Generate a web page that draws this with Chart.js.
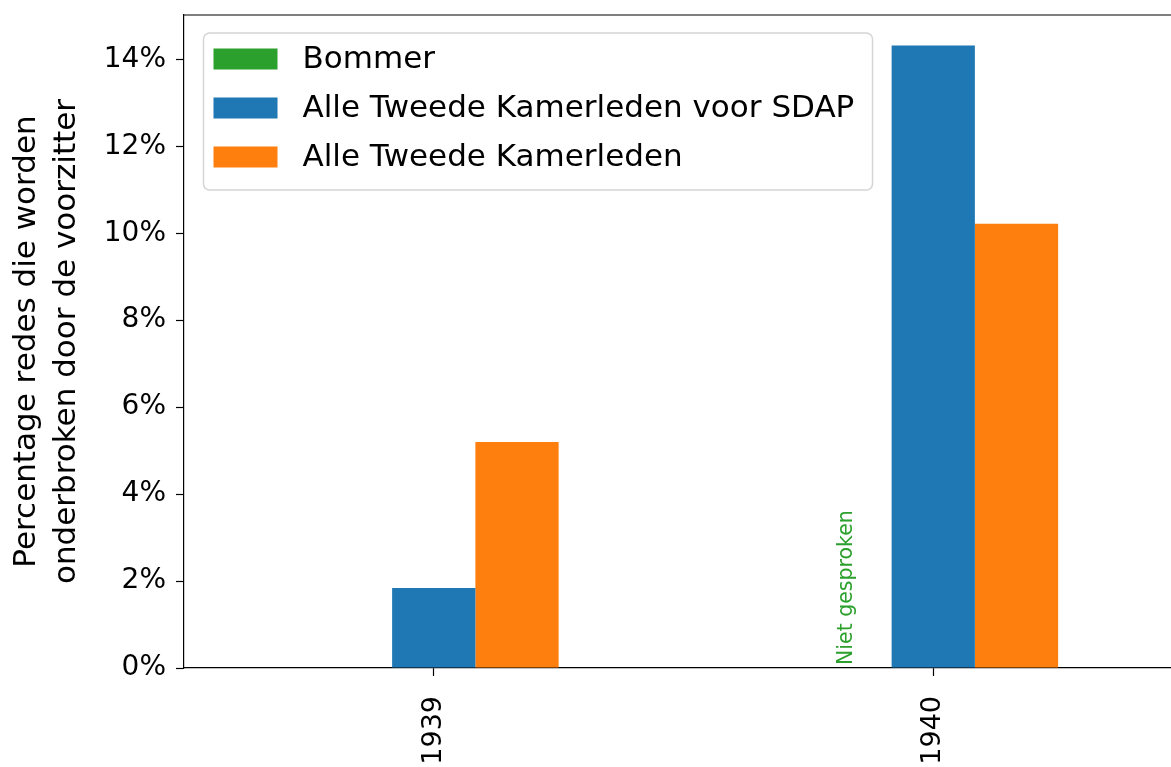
<!DOCTYPE html>
<html>
<head>
<meta charset="utf-8">
<script src="https://cdn.jsdelivr.net/npm/chart.js@4"></script>
<style>
  html, body { margin: 0; padding: 0; background: #fff; overflow: hidden; }
  #wrap { width: 1171px; height: 767px; overflow: hidden; }
</style>
</head>
<body>
<div id="wrap"><canvas id="myChart" width="1200" height="767"></canvas></div>
<script>
"use strict";

const jaren = ["1939", "1940"];
const bommer = [0, null];
const sdap = [1.84, 14.32];
const alleKamerleden = [5.2, 10.22];
const yTicks = [0, 2, 4, 6, 8, 10, 12, 14];
const yLabel = ["Percentage redes die worden", "onderbroken door de voorzitter"];
const nietGesproken = "Niet gesproken";

const fontFam = "'DejaVu Sans', sans-serif";

// kaderlijnen, tekst bij ontbrekende waarde en legenda binnen het plotgebied
const extras = {
  id: "extras",
  afterDatasetsDraw(chart) {
    const ctx = chart.ctx;
    const y0 = chart.scales.y.getPixelForValue(0);

    // "Niet gesproken" in het lege Bommer-vak van 1940
    const bar = chart.getDatasetMeta(1).data[1];
    const cx = bar.x - bar.width - 3;
    ctx.save();
    ctx.translate(cx, y0 - 3);
    ctx.rotate(-Math.PI / 2);
    ctx.font = "20.5px " + fontFam;
    ctx.fillStyle = "#2ca02c";
    ctx.textAlign = "left";
    ctx.textBaseline = "middle";
    ctx.fillText(nietGesproken, 0, 0);
    ctx.restore();
  },
  afterDraw(chart) {
    const ctx = chart.ctx;
    const area = chart.chartArea;
    ctx.save();
    ctx.strokeStyle = "#000";
    ctx.lineWidth = 1.2;
    ctx.beginPath();
    ctx.moveTo(area.left, area.top);
    ctx.lineTo(area.right, area.top);
    ctx.lineTo(area.right, area.bottom);
    ctx.stroke();

    // legenda
    const lx = area.left + 19.5, ly = area.top + 18;
    const lw = 669, lh = 157;
    ctx.fillStyle = "rgba(255,255,255,0.8)";
    ctx.strokeStyle = "#d5d5d5";
    ctx.lineWidth = 1.5;
    ctx.beginPath();
    ctx.roundRect(lx, ly, lw, lh, 6);
    ctx.fill();
    ctx.stroke();
    ctx.font = "31px " + fontFam;
    ctx.textBaseline = "middle";
    ctx.textAlign = "left";
    chart.data.datasets.forEach((ds, i) => {
      const ry = ly + 26 + i * 49;
      ctx.fillStyle = ds.backgroundColor;
      ctx.fillRect(lx + 10, ry - 10.5, 64, 21);
      ctx.fillStyle = "#000";
      ctx.fillText(ds.label, lx + 99, ry + 1);
    });
    ctx.restore();
  }
};

const config = {
  type: "bar",
  data: {
    labels: jaren,
    datasets: [
      { label: "Bommer", data: bommer, backgroundColor: "#2ca02c" },
      { label: "Alle Tweede Kamerleden voor SDAP", data: sdap, backgroundColor: "#1f77b4" },
      { label: "Alle Tweede Kamerleden", data: alleKamerleden, backgroundColor: "#ff7f0e" },
    ],
  },
  options: {
    responsive: false,
    animation: false,
    devicePixelRatio: 1,
    layout: { padding: { top: 15, right: 17, left: 0, bottom: 0 } },
    datasets: {
      bar: { categoryPercentage: 0.5, barPercentage: 1.0, borderWidth: 0 },
    },
    plugins: {
      legend: { display: false },
      tooltip: { enabled: false },
      title: { display: false },
    },
    scales: {
      x: {
        offset: true,
        border: { display: true, color: "#000", width: 1.2 },
        grid: { display: true, offset: false, drawOnChartArea: false, tickLength: 8, tickColor: "#000", tickWidth: 1.2 },
        ticks: {
          color: "#000",
          font: { family: fontFam, size: 27 },
          minRotation: 90,
          maxRotation: 90,
          padding: 20,
        },
        afterFit(scale) {
          scale.height = 99;
          scale.paddingLeft = 0;
          scale.paddingRight = 0;
        },
      },
      y: {
        min: 0,
        max: 15.02,
        border: { display: true, color: "#000", width: 1.2 },
        grid: { display: true, drawOnChartArea: false, tickLength: 8, tickColor: "#000", tickWidth: 1.2 },
        ticks: {
          stepSize: 2,
          color: "#000",
          font: { family: fontFam, size: 28 },
          padding: 10,
          callback: (v) => v + "%",
        },
        afterBuildTicks(scale) {
          scale.ticks = yTicks.map((v) => ({ value: v }));
        },
        title: {
          display: true,
          text: yLabel,
          color: "#000",
          font: { family: fontFam, size: 31, lineHeight: 1.29 },
          padding: { top: 7, bottom: 0 },
        },
        afterFit(scale) {
          scale.width = 184;
          scale.paddingTop = 0;
          scale.paddingBottom = 0;
        },
      },
    },
  },
  plugins: [extras],
};

let chart = new Chart(document.getElementById("myChart"), config);
</script>
</body>
</html>
